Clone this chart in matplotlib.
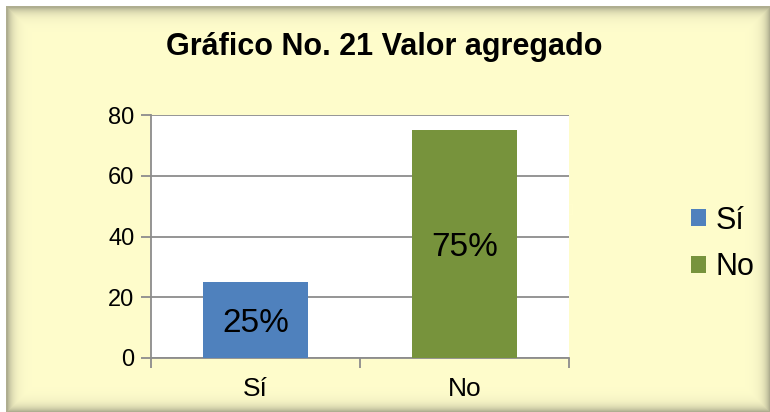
import matplotlib
matplotlib.use("Agg")
import numpy as np
import matplotlib.pyplot as plt
from matplotlib.patches import Patch

plt.rcParams['font.family'] = ['Liberation Sans', 'DejaVu Sans']

# data
categorias = ['Sí', 'No']
valores = [25, 75]
etiquetas = ['25%', '75%']
colores = ['#4F81BD', '#77933C']
y_ticks = [0, 20, 40, 60, 80]

W, H = 770, 412
fig = plt.figure(figsize=(W / 100, H / 100), dpi=100)
fig.patch.set_facecolor('white')

# yellow frame with a soft inner shadow round the edge
bg = fig.add_axes([0, 0, 1, 1], zorder=-5)
yy, xx = np.mgrid[0:H, 0:W]
d = np.minimum.reduce([xx - 7, yy - 7, (W - 1) - xx, (H - 1) - yy]).astype(float)
shade = 0.55 * np.exp(-np.clip(d, 0, None) / 5.5)
amarillo = np.array([255, 253, 204]) / 255
gris = np.array([110, 110, 95]) / 255
img = amarillo * (1 - shade[..., None]) + gris * shade[..., None]
img[(xx < 6) | (yy < 6)] = 1.0
bg.imshow(img, aspect='auto', interpolation='nearest')
bg.axis('off')

ax = fig.add_axes([151 / W, 54 / H, 418 / W, 243 / H])
ax.set_facecolor('white')

x = range(len(categorias))
ax.bar(x, valores, width=0.5, color=colores, zorder=3)
for xi, v, t in zip(x, valores, etiquetas):
    ax.text(xi, v / 2 - 1, t, ha='center', va='center', fontsize=24, color='black', zorder=4)

ax.set_ylim(0, 80)
ax.set_xlim(-0.5, 1.5)
ax.set_yticks(y_ticks)
ax.yaxis.grid(True, color='#8C8C8C', linewidth=1.3, zorder=0)
ax.set_xticks(list(x))
ax.set_xticklabels(categorias, fontsize=19)
ax.tick_params(axis='x', length=0, pad=14)
ax.set_xticks([-0.5, 0.5, 1.5], minor=True)
ax.tick_params(axis='x', which='minor', length=7, width=1.3, color='#8C8C8C', direction='out')
ax.tick_params(axis='y', labelsize=17, length=7, width=1.3, color='#8C8C8C', pad=5)
for s in ['top', 'right']:
    ax.spines[s].set_visible(False)
for s in ['left', 'bottom']:
    ax.spines[s].set_color('#8C8C8C')
    ax.spines[s].set_linewidth(1.3)

fig.text(384 / W, 1 - 47 / H, 'Gráfico No. 21 Valor agregado', ha='center', va='center',
         fontsize=22, fontweight='bold')

handles = [Patch(facecolor=c, edgecolor='none') for c in colores]
fig.legend(handles, categorias, loc='center left', bbox_to_anchor=(691 / W, 1 - 244 / H),
           frameon=False, fontsize=22, handlelength=0.5, handleheight=0.5,
           handletextpad=0.3, labelspacing=0.55, borderpad=0, borderaxespad=0)

fig.savefig('out.png', dpi=100, facecolor=fig.get_facecolor())
